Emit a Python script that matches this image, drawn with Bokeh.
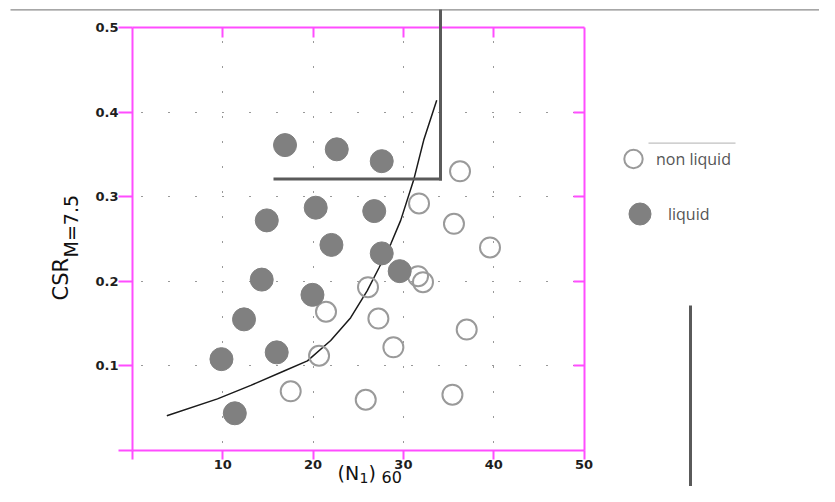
import math
from bokeh.plotting import figure
from bokeh.models import (FixedTicker, LinearAxis, Range1d, Label, BoxAnnotation,
                          Legend, LegendItem, Grid)
from bokeh.embed import file_html
from bokeh.resources import INLINE

# ---------------- data ----------------
liq_x = [16.89, 22.62, 27.60, 14.87, 20.29, 26.77, 22.03, 27.60, 29.59, 14.31, 19.93, 12.35, 15.97, 9.85, 11.33]
liq_y = [0.361, 0.356, 0.342, 0.272, 0.287, 0.283, 0.243, 0.233, 0.212, 0.202, 0.184, 0.155, 0.116, 0.108, 0.044]

non_x = [36.27, 31.73, 35.60, 39.59, 31.62, 32.17, 26.08, 21.43, 27.23, 37.01, 28.89, 20.66, 17.52, 25.83, 35.43]
non_y = [0.330, 0.292, 0.268, 0.240, 0.206, 0.199, 0.193, 0.164, 0.156, 0.143, 0.122, 0.112, 0.070, 0.060, 0.066]

curve_x = [3.80, 9.41, 13.10, 16.78, 19.37, 21.95, 24.16, 26.0, 27.3, 28.6, 29.7, 31.17, 32.28, 33.69]
curve_y = [0.041, 0.061, 0.077, 0.094, 0.106, 0.130, 0.157, 0.189, 0.216, 0.244, 0.272, 0.321, 0.368, 0.414]

x_ticks = [0, 10, 20, 30, 40, 50]
y_ticks = [0, 0.1, 0.2, 0.3, 0.4, 0.5]
x_grid = [10, 20, 30, 40]
y_grid = [0.1, 0.2, 0.3, 0.4]

legend_labels = ["non liquid", "liquid"]

MAG = "#ff4dff"
TICK_TXT = "#1e1e1e"

W, H = 819, 486
X0_PX, X_SCALE = 132.0, 9.03     # pixel of x=0, pixels per x unit
Y0_PX, Y_SCALE = 450.0, 846.0    # pixel of y=0, pixels per y unit

p = figure(width=W, height=H, output_backend="svg", toolbar_location=None,
           x_range=Range1d(-X0_PX / X_SCALE, (W - X0_PX) / X_SCALE),
           y_range=Range1d((Y0_PX - H) / Y_SCALE, Y0_PX / Y_SCALE),
           x_axis_location=None, y_axis_location=None,
           min_border=0)
p.outline_line_color = None
p.background_fill_color = "white"
p.border_fill_color = "white"
# drop the default (full-width) grids
p.center = [r for r in p.center if not isinstance(r, Grid)]


def style_axis(ax):
    ax.axis_line_color = MAG
    ax.axis_line_width = 2
    ax.major_tick_line_color = MAG
    ax.major_tick_line_width = 2
    ax.minor_tick_line_color = None
    ax.major_label_text_font = "DejaVu Sans"
    ax.major_label_text_font_size = "13px"
    ax.major_label_text_font_style = "bold"
    ax.major_label_text_color = TICK_TXT


left = LinearAxis(ticker=FixedTicker(ticks=y_ticks), fixed_location=x_ticks[0],
                  bounds=(y_ticks[0], y_ticks[-1]))
style_axis(left)
left.major_tick_out = 14
left.major_tick_in = 0
left.major_label_standoff = 0
left.major_label_overrides = {0: ""}
p.add_layout(left, "left")

bottom = LinearAxis(ticker=FixedTicker(ticks=x_ticks), fixed_location=y_ticks[0],
                    bounds=(x_ticks[0], x_ticks[-1]))
style_axis(bottom)
bottom.major_tick_out = 9
bottom.major_tick_in = 0
bottom.major_label_standoff = 0
bottom.major_label_overrides = {0: ""}
p.add_layout(bottom, "below")

top = LinearAxis(ticker=FixedTicker(ticks=x_ticks[1:-1]), fixed_location=y_ticks[-1],
                 bounds=(x_ticks[0], x_ticks[-1]))
style_axis(top)
top.major_tick_out = 0
top.major_tick_in = 10
top.major_label_overrides = {t: "" for t in x_ticks[1:-1]}
p.add_layout(top, "above")

right = LinearAxis(ticker=FixedTicker(ticks=y_ticks[1:-1]), fixed_location=x_ticks[-1],
                   bounds=(y_ticks[0], y_ticks[-1]))
style_axis(right)
right.major_tick_out = 0
right.major_tick_in = 11
right.major_label_overrides = {t: "" for t in y_ticks[1:-1]}
p.add_layout(right, "right")

# dotted grid, restricted to the plotting box
gx = Grid(dimension=0, ticker=FixedTicker(ticks=x_grid),
          cross_bounds=(y_ticks[0], y_ticks[-1]),
          grid_line_color="#333333", grid_line_width=1,
          grid_line_dash="1 24", grid_line_dash_offset=17)
gy = Grid(dimension=1, ticker=FixedTicker(ticks=y_grid),
          cross_bounds=(x_ticks[0], x_ticks[-1]),
          grid_line_color="#333333", grid_line_width=1,
          grid_line_dash="1 26", grid_line_dash_offset=18)
p.add_layout(gx, "center")
p.add_layout(gy, "center")

# boundary curve
p.line(curve_x, curve_y, line_color="#1a1a1a", line_width=1.5)

# points
r_non = p.scatter(non_x, non_y, size=20, fill_color=None,
                  line_color="#9a9a9a", line_width=2)
r_liq = p.scatter(liq_x, liq_y, size=23, fill_color="#808080",
                  line_color="#808080", line_width=1)

# legends (two separate one-item legends, as in the original)
common = dict(glyph_height=55, padding=0, margin=0,
              border_line_color=None, background_fill_alpha=0,
              label_text_font="Open Sans", label_text_font_size="16px",
              label_text_color="#555555")
lg1 = Legend(items=[LegendItem(label=legend_labels[0], renderers=[r_non])],
             location=(610, 300), glyph_width=46, label_standoff=0, **common)
lg2 = Legend(items=[LegendItem(label=legend_labels[1], renderers=[r_liq])],
             location=(612, 245), glyph_width=55, label_standoff=1, **common)
p.add_layout(lg1, "center")
p.add_layout(lg2, "center")


# axis titles (canvas units)
def lab(x, y, text, size, angle=0.0, color="#111111"):
    p.add_layout(Label(x=x, y=y, x_units="canvas", y_units="canvas", text=text,
                       angle=angle, text_font="DejaVu Sans", text_font_size=size,
                       text_color=color, text_baseline="alphabetic",
                       text_align="left"))


lab(60, 300, "CSR", "21px", angle=math.pi / 2)
lab(70, 257, "M=7.5", "19px", angle=math.pi / 2)
lab(337, 472, "(N", "19px")
lab(359, 477, "1", "14px")
lab(368, 472, ")", "19px")
lab(381, 476, "60", "16px")


# scanned-figure decorations (frame shadows / rules)
def rule(l, r, t, b, color="#5a5a5a"):
    p.add_layout(BoxAnnotation(left=l, right=r, top=t, bottom=b,
                               left_units="canvas", right_units="canvas",
                               top_units="canvas", bottom_units="canvas",
                               fill_color=color, fill_alpha=1, line_color=None))


rule(10, 820, 8.7, 10, "#8a8a8a")
rule(438.5, 441.5, 9, 180)
rule(273, 441.5, 177, 180)
rule(648, 735, 142, 143.3, "#c0c0c0")
rule(688.5, 691.5, 305, 486)

open("out.html", "w").write(file_html(p, INLINE))
